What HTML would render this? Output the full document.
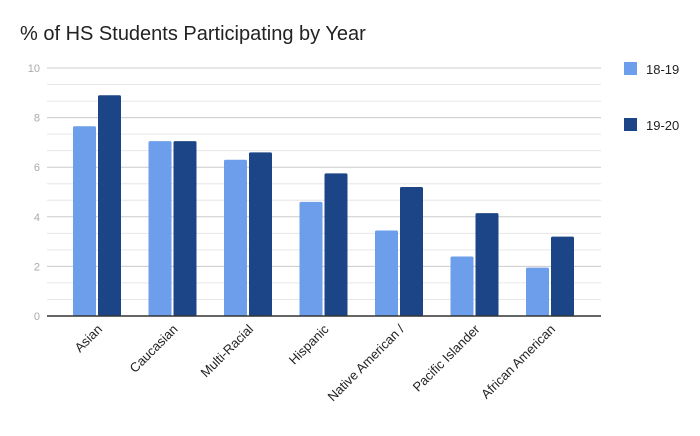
<!DOCTYPE html>
<html><head><meta charset="utf-8"><style>
body{margin:0;background:#fff;font-family:"Liberation Sans",sans-serif}
</style></head><body>
<svg id="c" width="700" height="431" xmlns="http://www.w3.org/2000/svg">
<text x="20" y="40" font-size="20" fill="#222">% of HS Students Participating by Year</text>
<g id="grid"></g><g id="bars"></g><g id="labels"></g>
<g>
<rect x="624" y="62" width="13" height="13" fill="#6d9eeb"/>
<text x="646" y="74" font-size="13" fill="#222">18-19</text>
<rect x="624" y="118" width="13" height="13" fill="#1c4587"/>
<text x="646" y="130" font-size="13" fill="#222">19-20</text>
</g>
</svg>
<script>
const categories=["Asian","Caucasian","Multi-Racial","Hispanic","Native American /","Pacific Islander","African American"];
const series1819=[7.65,7.05,6.3,4.6,3.45,2.4,1.95];
const series1920=[8.9,7.05,6.6,5.75,5.2,4.15,3.2];
const yTicks=[0,2,4,6,8,10];
const NS="http://www.w3.org/2000/svg";
const x0=47,x1=601,y0=316,yTop=68,yMax=10;
const y=v=>y0-(v/yMax)*(y0-yTop);
const cx=i=>97+i*75.5;
function mk(t,a,p){const e=document.createElementNS(NS,t);for(const k in a)e.setAttribute(k,a[k]);p.appendChild(e);return e;}
const g=document.getElementById('grid');
for(let k=1;k<=15;k++){const v=k*2/3;
const l=mk('line',{x1:x0,x2:x1,y1:y(v),y2:y(v),stroke:k%3===0?'#ccc':'#e6e6e6','stroke-width':1},g);

}
yTicks.forEach(t=>{const tx=mk('text',{x:40,y:y(t)+4,'font-size':11,fill:'#aaa','text-anchor':'end'},g);tx.textContent=t;

});
const b=document.getElementById('bars');
categories.forEach((c,i)=>{
const r1=mk('rect',{x:cx(i)-24,y:y(series1819[i]),width:23,height:y0-y(series1819[i]),fill:'#6d9eeb',rx:1.5},b);


const r2=mk('rect',{x:cx(i)+1,y:y(series1920[i]),width:23,height:y0-y(series1920[i]),fill:'#1c4587',rx:1.5},b);


const lb=mk('text',{x:cx(i)+6,y:330,'font-size':13,fill:'#222','text-anchor':'end',transform:`rotate(-45 ${cx(i)+6} 330)`},document.getElementById('labels'));
lb.textContent=c;


});
const ax=mk('line',{x1:x0,x2:x1,y1:y0,y2:y0,stroke:'#333','stroke-width':1.5},b);


</script>
</body></html>
